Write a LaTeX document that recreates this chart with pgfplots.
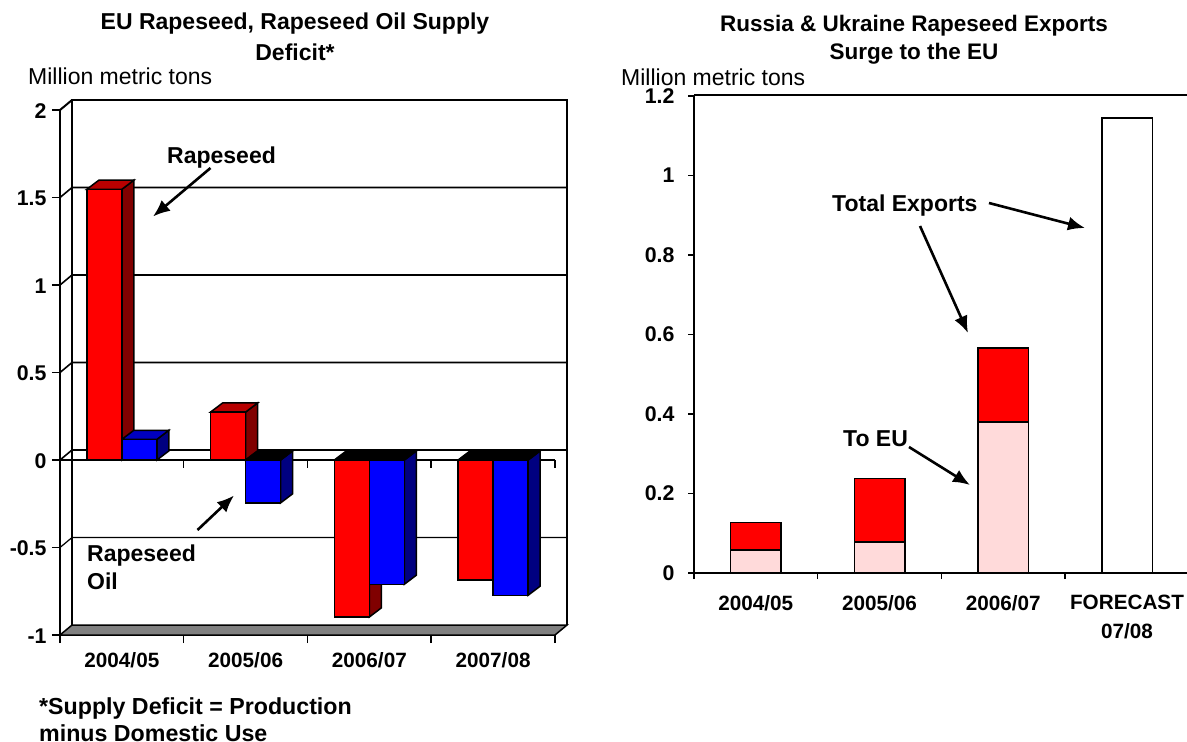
\documentclass[border=0pt]{standalone}
\usepackage{fontspec}
\setmainfont{Liberation Sans}
\usepackage{pgfplots}
\pgfplotsset{compat=1.18}
\usetikzlibrary{arrows.meta,patterns.meta}
\definecolor{redtop}{RGB}{184,0,0}
\definecolor{redside}{RGB}{128,0,0}
\definecolor{bluetop}{RGB}{0,0,192}
\definecolor{blueside}{RGB}{0,0,128}
\definecolor{floorgray}{RGB}{128,128,128}
\definecolor{palepink}{RGB}{255,238,238}
\newcommand\depthfaces[5]{%
  \pgfmathsetmacro\xa{#1}%
  \pgfmathsetmacro\xb{#2}%
  \pgfmathsetmacro\vv{#3}%
  \pgfmathsetmacro\lv{max(#3,0)}%
  \pgfmathsetmacro\xad{\xa+0.097}%
  \pgfmathsetmacro\xbd{\xb+0.097}%
  \pgfmathsetmacro\lvd{\lv+0.052}%
  \pgfmathsetmacro\vvd{\vv+0.052}%
  \edef\tmp{\noexpand\addplot[fill=#5,draw=black,line width=1.5pt] coordinates {(\xb,0) (\xbd,0.052) (\xbd,\vvd) (\xb,\vv)} --cycle;
  \noexpand\addplot[fill=#4,draw=black,line width=1.5pt] coordinates {(\xa,\lv) (\xad,\lvd) (\xbd,\lvd) (\xb,\lv)} --cycle;}\tmp}
\newcommand\mainfs{\fontsize{21.3}{24}\selectfont}
\newcommand\textfs{\fontsize{23}{28}\selectfont}
\begin{document}
\begin{tikzpicture}[x=1pt,y=-1pt]
\path[use as bounding box] (0,0) rectangle (1187,742);
% ---------- left chart
\begin{axis}[
  at={(60pt,-635pt)},anchor=south west,
  scale only axis,width=495pt,height=525pt,
  xmin=-0.5,xmax=3.5,ymin=-1,ymax=2,clip=false,
  axis lines=left,axis line style={-,black,line width=2pt},
  tick align=outside,major tick length=8pt,minor tick length=8pt,
  tick style={black,line width=1.5pt},
  major x tick style={draw=none},
  xtick={0,1,2,3},xticklabels={2004/05,2005/06,2006/07,2007/08},
  minor xtick={-0.5,0.5,1.5,2.5,3.5},
  ytick={-1,-0.5,0,0.5,1,1.5,2},yticklabels={-1,-0.5,0,0.5,1,1.5,2},
  tick label style={font=\mainfs\bfseries},
  xticklabel style={yshift=-6pt,font=\fontsize{20.7}{24}\selectfont\bfseries},
  yticklabel style={xshift=-2pt,yshift=-1pt},
]
% floor and back wall
\addplot[fill=floorgray,draw=black,line width=1.5pt] coordinates {(-0.5,-1) (-0.403,-0.943) (3.597,-0.943) (3.5,-1)} --cycle;
\addplot[black,line width=2pt] coordinates {(-0.403,-0.943) (-0.403,2.057) (3.597,2.057) (3.597,-0.943)};
\addplot[black,line width=2pt] coordinates {(-0.5,2) (-0.403,2.057)};
\addplot[black,line width=1.6pt] coordinates {(-0.5,1.5) (-0.403,1.557) (3.597,1.557)};
\addplot[black,line width=1.6pt] coordinates {(-0.5,1) (-0.403,1.057) (3.597,1.057)};
\addplot[black,line width=1.6pt] coordinates {(-0.5,0.5) (-0.403,0.557) (3.597,0.557)};
\addplot[black,line width=1.6pt] coordinates {(-0.5,0) (-0.403,0.057) (3.597,0.057)};
\addplot[black,line width=1.2pt] coordinates {(-0.5,-0.5) (-0.403,-0.443) (3.597,-0.443)};
% front zero line with its ticks
\addplot[black,line width=2pt] coordinates {(-0.5,0) (3.5,0)};
\addplot[black,line width=1.5pt] coordinates {(0.5,0) (0.5,-0.046)};
\addplot[black,line width=1.5pt] coordinates {(1.5,0) (1.5,-0.046)};
\addplot[black,line width=1.5pt] coordinates {(2.5,0) (2.5,-0.046)};
\addplot[black,line width=1.5pt] coordinates {(3.5,0) (3.5,-0.046)};
% depth faces
\depthfaces{-0.283}{0}{1.547}{redtop}{redside}
\depthfaces{0.717}{1}{0.274}{redtop}{redside}
\depthfaces{1.717}{2}{-0.897}{black}{redside}
\depthfaces{2.717}{3}{-0.687}{black}{redside}
\depthfaces{0}{0.283}{0.118}{bluetop}{blueside}
\depthfaces{1}{1.283}{-0.245}{black}{blueside}
\depthfaces{2}{2.283}{-0.71}{black}{blueside}
\depthfaces{3}{3.283}{-0.773}{black}{blueside}
% front faces
\addplot[ybar,bar width=35pt,bar shift=-17.5pt,fill=red,draw=black,line width=1.5pt]
  coordinates {(0,1.547) (1,0.274) (2,-0.897) (3,-0.687)};
\addplot[ybar,bar width=35pt,bar shift=17.5pt,fill=blue,draw=black,line width=1.5pt]
  coordinates {(0,0.118) (1,-0.245) (2,-0.71) (3,-0.773)};
\end{axis}
% ---------- right chart
\begin{axis}[
  at={(694pt,-573pt)},anchor=south west,
  scale only axis,width=493pt,height=477pt,
  xmin=-0.5,xmax=3.485,ymin=0,ymax=1.2,clip=false,
  axis lines=left,axis line style={-,black,line width=2pt},
  tick align=outside,major tick length=6pt,minor tick length=6pt,
  tick style={black,line width=1.5pt},
  major x tick style={draw=none},
  xtick={0,1,2,3},xticklabels={2004/05,2005/06,2006/07,{FORECAST\\07/08}},
  minor xtick={-0.5,0.5,1.5,2.5},
  ytick={0,0.2,0.4,0.6,0.8,1,1.2},yticklabels={0,0.2,0.4,0.6,0.8,1,1.2},
  tick label style={font=\mainfs\bfseries},
  xticklabel style={align=center,yshift=-13pt,font=\fontsize{20.7}{29}\selectfont\bfseries},
  yticklabel style={xshift=-10pt},
  ybar stacked,bar width=50.5pt,
]
\addplot[fill=palepink,draw=black,line width=1.5pt,
  postaction={pattern={Dots[distance=2pt,radius=0.35pt]},pattern color=red}]
  coordinates {(0,0.058) (1,0.078) (2,0.38) (3,0)};
\addplot[fill=red,draw=black,line width=1.5pt]
  coordinates {(0,0.0685) (1,0.16) (2,0.186) (3,0)};
\addplot[fill=white,draw=black,line width=1.5pt]
  coordinates {(0,0) (1,0) (2,0) (3,1.145)};
\end{axis}
\draw[black,line width=1.5pt] (694,95) -- (1187,95);
% ---------- text
\node[font=\fontsize{23}{31}\selectfont\bfseries,align=center] at (295,36.5) {EU Rapeseed, Rapeseed Oil Supply\\Deficit*};
\node[font=\fontsize{22.5}{28}\selectfont\bfseries,align=center] at (914,40) {Russia \& Ukraine Rapeseed Exports\\Surge to the EU};
\node[font=\textfs,anchor=west,inner sep=0pt] at (28,76) {Million metric tons};
\node[font=\textfs,anchor=west,inner sep=0pt] at (621,77) {Million metric tons};
\node[font=\textfs\bfseries,anchor=west,inner sep=0pt] at (167,157.5) {Rapeseed};
\node[font=\textfs\bfseries,anchor=west,align=left,inner sep=0pt] at (87,567.5) {Rapeseed\\Oil};
\node[font=\fontsize{23.2}{27}\selectfont\bfseries,anchor=west,align=left,inner sep=0pt] at (39,719.5) {*Supply Deficit = Production\\minus Domestic Use};
\node[font=\textfs\bfseries,anchor=west,inner sep=0pt] at (832,206) {Total Exports};
\node[font=\textfs\bfseries,anchor=west,inner sep=0pt] at (843,439) {To EU};
% ---------- arrows
\tikzset{call/.style={line width=2.6pt,-{Latex[length=17pt,width=14pt]}}}
\draw[call] (210.5,168) -- (153,216.5);
\draw[call] (197.5,530) -- (234,495.5);
\draw[call] (989,203) -- (1085,228);
\draw[call] (920,226) -- (968,333);
\draw[call] (909,447) -- (970,485);
\end{tikzpicture}
\end{document}
